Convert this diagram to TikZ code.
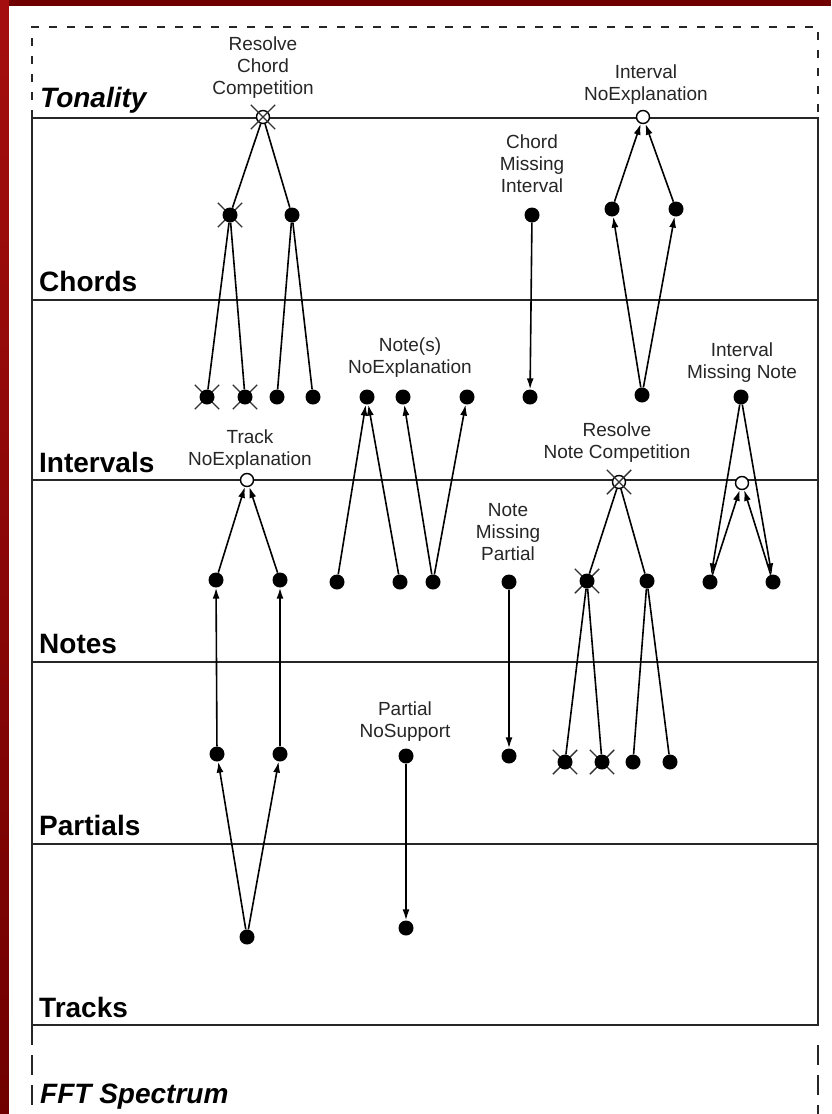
\documentclass[tikz,border=0pt]{standalone}
\usepackage{fontspec}
\setmainfont{Liberation Sans}
\usetikzlibrary{arrows.meta,shapes.misc}
\definecolor{bgred}{RGB}{112,0,0}
\definecolor{bgredlight}{RGB}{165,14,14}
\definecolor{xgray}{RGB}{50,50,50}
\begin{document}
\begin{tikzpicture}[x=1pt,y=-1pt,
  dot/.style={circle,fill=black,inner sep=0pt,minimum size=15pt},
  hollow/.style={circle,draw=black,fill=white,line width=1.4pt,inner sep=0pt,minimum size=13pt},
  xout/.style={cross out,draw=xgray,line width=1.4pt,inner sep=0pt,minimum size=23pt},
  layer/.style={font=\fontsize{28}{30}\selectfont\bfseries,anchor=base west,inner sep=0pt},
  tip/.style={font=\fontsize{19}{22}\selectfont,align=center,anchor=base,inner sep=0pt,text=black!85},
  link/.style={line width=1.6pt},
  arr/.style={link,-{Latex[length=11pt,width=7pt]}},
  frame/.style={line width=1.4pt,draw=black!85},
  dshtop/.style={line width=1.4pt,draw=black!85,dash pattern=on 8pt off 10pt},
  dshbot/.style={line width=1.4pt,draw=black!85,dash pattern=on 20pt off 10pt}
]
\useasboundingbox (0,0) rectangle (831,1114);
% background
\fill[bgred] (0,0) rectangle (831,1114);
\shade[top color=bgredlight,bottom color=bgred] (0,0) rectangle (9,1114);
\fill[white] (9,6) rectangle (831,1114);

% frames
\draw[dshtop] (32,118) -- (32,27) -- (818,27) -- (818,118);
\draw[frame] (32,118) rectangle (818,1025);
\foreach \yy in {300,480,662,844} \draw[frame] (32,\yy) -- (818,\yy);
\draw[dshbot] (32,1025) -- (32,1114);
\draw[dshbot] (818,1045) -- (818,1114);

% layer labels
\node[layer,font=\fontsize{28}{30}\selectfont\bfseries\itshape] (lton) at (40,107) {Tonality};
\node[layer] (lcho) at (39,291) {Chords};
\node[layer] (lint) at (39,472) {Intervals};
\node[layer] (lnot) at (39,653) {Notes};
\node[layer] (lpar) at (39,835) {Partials};
\node[layer] (ltra) at (39,1017) {Tracks};
\node[layer,font=\fontsize{28}{30}\selectfont\bfseries\itshape] (lfft) at (40,1103) {FFT Spectrum};

% small labels
\node[tip] (trcc) at (263,94) {Resolve\\Chord\\Competition};
\node[tip] (tine) at (646,100) {Interval\\NoExplanation};
\node[tip] (tcmi) at (532,192) {Chord\\Missing\\Interval};
\node[tip] (tnne) at (410,373) {Note(s)\\NoExplanation};
\node[tip] (timn) at (742,378) {Interval\\Missing Note};
\node[tip] (ttne) at (250,465) {Track\\NoExplanation};
\node[tip] (trnc) at (617,458) {Resolve\\Note Competition};
\node[tip] (tnmp) at (508,560) {Note\\Missing\\Partial};
\node[tip] (tpns) at (405,737) {Partial\\NoSupport};

% nodes: tonality / chords
\node[hollow] (rcc) at (263,117) {};
\node[xout] (rccx) at (rcc) {};
\node[hollow] (ine) at (643,117) {};
\node[xout] (c1x) at (230,215) {};
\node[dot] (c1) at (230,215) {};
\node[dot] (c2) at (292,215) {};
\node[dot] (cmi) at (532,215) {};
\node[dot] (c3) at (612,209) {};
\node[dot] (c4) at (676,209) {};

% intervals
\node[xout] (i1x) at (207,397) {};
\node[dot] (i1) at (207,397) {};
\node[xout] (i2x) at (245,397) {};
\node[dot] (i2) at (245,397) {};
\node[dot] (i3) at (277,397) {};
\node[dot] (i4) at (313,397) {};
\node[dot] (n1) at (367,397) {};
\node[dot] (n2) at (403,397) {};
\node[dot] (n3) at (467,397) {};
\node[dot] (i5) at (530,397) {};
\node[dot] (i6) at (642,395) {};
\node[dot] (imn) at (741,397) {};
\node[hollow] (tne) at (247,480) {};
\node[hollow] (rnc) at (619,482) {};
\node[xout] (rncx) at (rnc) {};
\node[hollow] (imo) at (742,483) {};

% notes
\node[dot] (t1n) at (216,580) {};
\node[dot] (t2n) at (280,580) {};
\node[dot] (nn1) at (337,582) {};
\node[dot] (nn2) at (400,582) {};
\node[dot] (nn3) at (433,582) {};
\node[dot] (nmp) at (509,582) {};
\node[xout] (rn1x) at (587,581) {};
\node[dot] (rn1) at (587,581) {};
\node[dot] (rn2) at (647,581) {};
\node[dot] (mn1) at (710,582) {};
\node[dot] (mn2) at (773,582) {};

% partials
\node[dot] (p1) at (217,754) {};
\node[dot] (p2) at (280,754) {};
\node[dot] (pns) at (406,756) {};
\node[dot] (pmp) at (509,756) {};
\node[xout] (q1x) at (565,762) {};
\node[dot] (q1) at (565,762) {};
\node[xout] (q2x) at (602,762) {};
\node[dot] (q2) at (602,762) {};
\node[dot] (q3) at (633,762) {};
\node[dot] (q4) at (670,762) {};

% tracks
\node[dot] (tr1) at (247,937) {};
\node[dot] (tr2) at (406,928) {};

% connectors
\draw[link] (rcc) -- (c1);
\draw[link] (rcc) -- (c2);
\draw[link] (c1) -- (i1);
\draw[link] (c1) -- (i2);
\draw[link] (c2) -- (i3);
\draw[link] (c2) -- (i4);
\draw[arr] (i6) -- (c3);
\draw[arr] (i6) -- (c4);
\draw[arr] (c3) -- (ine);
\draw[arr] (c4) -- (ine);
\draw[arr] (cmi) -- (i5);
\draw[arr] (imn) -- (mn1);
\draw[arr] (imn) -- (mn2);
\draw[arr] (mn1) -- (imo);
\draw[arr] (mn2) -- (imo);
\draw[arr] (nn1) -- (n1);
\draw[arr] (nn2) -- (n1);
\draw[arr] (nn3) -- (n2);
\draw[arr] (nn3) -- (n3);
\draw[arr] (t1n) -- (tne);
\draw[arr] (t2n) -- (tne);
\draw[link] (rnc) -- (rn1);
\draw[link] (rnc) -- (rn2);
\draw[link] (rn1) -- (q1);
\draw[link] (rn1) -- (q2);
\draw[link] (rn2) -- (q3);
\draw[link] (rn2) -- (q4);
\draw[arr] (nmp) -- (pmp);
\draw[arr] (p1) -- (t1n);
\draw[arr] (p2) -- (t2n);
\draw[arr] (tr1) -- (p1);
\draw[arr] (tr1) -- (p2);
\draw[arr] (pns) -- (tr2);
\end{tikzpicture}
\end{document}
